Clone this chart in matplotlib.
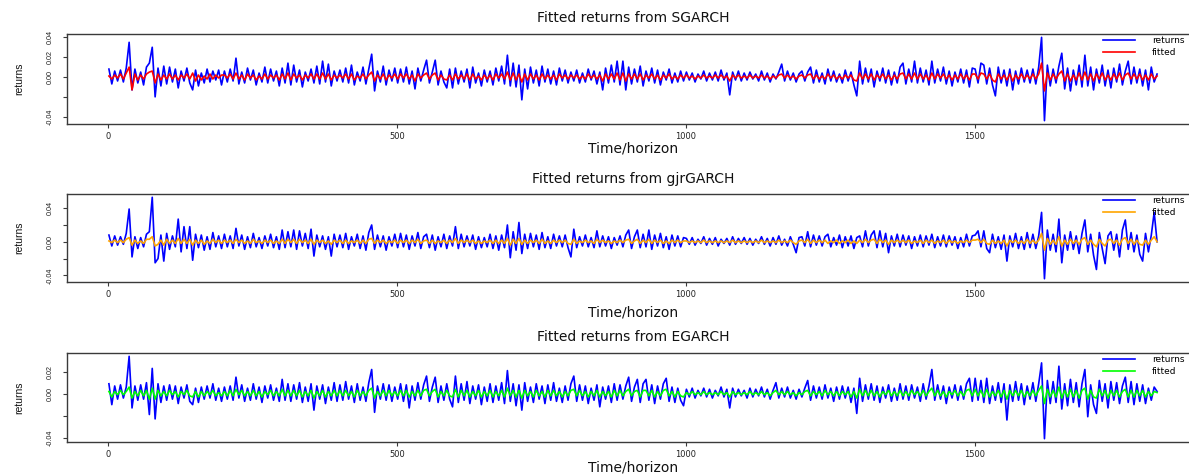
import matplotlib.pyplot as plt
import numpy as np

# Returns and fitted conditional means, in units of 1e-3,
# one value every TIME_STEP observations.
TIME_STEP = 5

RET_SGARCH = [
    8, -7, 6, -4, 7, -5, 9, 35, -13, 8, -6, 5, -8, 10, 14, 30, -20, 9, -9, 11,
    -7, 10, -5, 8, -11, 6, -4, 9, -6, -13, 7, -9, 4, -6, 8, -5, 6, -3, 7, -8,
    6, -5, 8, -4, 19, -7, 5, -6, 9, -3, 7, -8, 4, -5, 10, -6, 8, -4, 6, -9,
    9, -6, 14, -8, 12, -5, 7, -10, 5, -4, 8, -6, 11, -7, 16, -5, 13, -9, 6, -4,
    7, -5, 9, -6, 12, -8, 5, -4, 10, -7, 8, 23, -14, 6, -5, 11, -8, 7, -4, 9,
    -6, 8, -5, 10, -7, 6, -12, 9, -4, 7, 17, -6, 5, 17, -8, 6, -5, -11, 8, -11,
    9, -7, 6, -5, 8, -11, 10, -6, 4, -9, 7, -5, 6, -8, 9, -4, 11, -7, 22, -9,
    14, -10, 12, -23, 8, -12, 10, -6, 7, -9, 11, -5, 8, -7, 6, -8, 9, -4, 7, -6,
    5, -4, 7, -6, 4, -5, 8, -3, 6, -7, 5, -13, 9, -6, 12, -5, 16, -8, 16, -13,
    10, -7, 8, -5, 11, -9, 6, -4, 9, -6, 7, -8, 5, -3, 8, -6, 4, -5, 6, -4,
    5, -3, 4, -5, 3, -2, 6, -4, 4, -3, 5, -4, 7, -3, 4, -18, 5, -3, 6, -4,
    4, -3, 5, -2, 3, -4, 6, -3, 4, -5, 3, -2, 5, 13, -4, 6, -3, 4, -5, 3,
    6, -4, 5, 10, -6, 7, -5, 4, -7, 8, -4, 6, -5, 3, -6, 7, -4, 5, -8, -19,
    16, -7, 9, -5, 8, -10, 6, -4, 9, -6, 7, -8, 5, -6, 10, 14, -7, 8, -5, 16,
    -6, 9, -5, 7, -8, 16, -6, 8, -4, 10, -7, 6, -9, 5, -5, 8, -6, 7, -10, 9,
    8, -6, 14, 12, -7, 9, -8, -19, 10, -6, 7, -9, 8, -13, 6, -7, 9, -5, 7, -6,
    8, -7, 10, 40, -44, 12, -9, 8, -6, 11, 24, -12, 9, -14, 7, -8, 12, -10, 22, -9,
    10, -13, 8, -6, 12, -9, 7, -11, 9, -5, 13, -8, 6, 16, -7, 10, -6, 8, -9, 7,
    -13, 10, -5, 3,
]

FIT_SGARCH = [
    1, -2, 2, -1, 3, -2, 4, 10, -13, 3, -3, 2, -2, 3, 5, 6, -6, 3, -3, 2,
    -2, 3, -2, 2, -3, 2, -1, 3, -2, 4, -4, 2, -3, 1, -2, 3, -2, 2, -1, 2,
    2, -1, 3, -2, 4, -2, 2, -3, 3, -1, 2, -3, 1, -2, 3, -2, 2, -1, 2, -3,
    3, -2, 4, -3, 3, -1, 2, -3, 2, -1, 3, -2, 3, -2, 4, -2, 3, -3, 2, -1,
    2, -1, 3, -2, 3, -3, 1, -1, 3, -2, 2, 5, -4, 2, -2, 3, -3, 2, -1, 3,
    -2, 3, -1, 3, -2, 2, -4, 3, -1, 2, 4, -2, 2, 4, -3, 2, -2, -3, 2, -3,
    3, -2, 2, -2, 3, -3, 3, -2, 1, -3, 2, -2, 2, -3, 3, -1, 3, -2, 5, -3,
    4, -3, 3, -5, 3, -3, 3, -2, 2, -3, 3, -2, 2, -2, 2, -3, 3, -1, 2, -2,
    2, -1, 2, -2, 1, -2, 3, -1, 2, -2, 2, -4, 3, -2, 3, -2, 4, -3, 4, -4,
    3, -2, 3, -2, 3, -3, 2, -1, 3, -2, 2, -3, 2, -1, 3, -2, 1, -2, 2, -1,
    2, -1, 1, -2, 1, -1, 2, -1, 1, -1, 2, -1, 2, -1, 1, -4, 2, -1, 2, -1,
    1, -1, 2, -1, 1, -1, 2, -1, 1, -2, 1, -1, 2, 3, -1, 2, -1, 1, -2, 1,
    2, -1, 2, 3, -2, 2, -2, 1, -2, 3, -1, 2, -2, 1, -2, 2, -1, 2, -3, -4,
    4, -2, 3, -2, 3, -3, 2, -1, 3, -2, 2, -3, 2, -2, 3, 4, -2, 3, -2, 4,
    -2, 3, -2, 2, -3, 4, -2, 3, -1, 3, -2, 2, -3, 2, -2, 3, -2, 2, -3, 3,
    3, -2, 4, 3, -2, 3, -3, -5, 3, -2, 2, -3, 3, -4, 2, -2, 3, -2, 2, -2,
    3, -2, 3, 14, -14, 4, -3, 3, -2, 3, 6, -4, 3, -4, 2, -3, 4, -3, 5, -3,
    3, -4, 3, -2, 4, -3, 2, -3, 3, -2, 4, -3, 2, 4, -2, 3, -2, 3, -3, 2,
    -3, 3, -2, 1,
]

RET_GJR = [
    8, -5, 7, -4, 6, -3, 10, 39, -18, 6, -8, 5, -6, 9, 12, 53, -25, -20, 8, -23,
    10, -9, 7, -6, 27, -12, 18, -8, 18, -22, 9, -7, 8, -10, 6, -9, 11, -6, 7, -8,
    9, -6, 7, -8, 16, -5, 8, -9, 6, -7, 10, -6, 5, -8, 7, -5, 9, -7, 6, -9,
    14, -7, 12, -6, 14, -9, 13, -5, 10, -8, 15, -17, 8, -6, 7, -9, 6, -17, 9, -6,
    8, -7, 10, -9, 6, -5, 9, -8, 7, -10, 11, 20, -9, 8, -6, 7, -10, 6, -5, 9,
    -7, 10, -6, 8, -9, 7, -5, 11, -8, 6, 9, -7, 8, -10, 6, -6, 9, -8, 7, -5,
    18, -8, 9, -6, 7, -5, 8, -9, 6, -7, 5, -6, 9, -8, 7, -10, 8, -7, 20, -19,
    12, -10, 23, -14, 9, -8, 10, -6, 8, -9, 11, -7, 6, -8, 9, -5, 7, -6, 8, -7,
    -18, 15, -7, 6, -5, 8, -6, 5, -7, 13, -6, 7, -5, 6, -8, 5, -4, 7, -6, 8,
    14, -8, 6, 14, -7, 9, -6, 14, -9, 8, -5, 10, -7, 6, -9, 8, -5, 7, -6, 5,
    4, -3, 5, -4, 3, -2, 6, -4, 4, -3, 5, -5, 3, -2, 4, -4, 6, -3, 4, -2,
    5, -3, 4, -4, 3, -2, 6, -3, 4, -5, 5, -3, 7, -4, 3, -5, 6, -3, -13, 5,
    6, -5, 12, -6, 8, -4, 7, -5, 6, 9, -6, 5, -4, 8, -7, 6, -5, 7, -8, 5,
    7, -6, 13, -5, 8, 13, -7, 13, -6, 10, -13, 7, -5, 9, -6, 8, -4, 7, -8, 6,
    -5, 8, -6, 7, -4, 9, -7, 6, -5, 8, -6, 7, -4, 6, -8, 5, -6, 9, -5, 7,
    8, 13, -6, 13, -8, -13, 9, -7, 6, -9, 8, -23, 7, -6, 10, -8, 6, -9, 11, -7,
    9, -8, 7, 35, -44, 14, -10, 9, -12, 27, -25, 8, -10, 12, -9, 7, -14, 10, 26, -12,
    9, -16, -33, 11, -8, -26, 7, 12, -10, 9, -18, 14, 26, -9, 11, -12, 8, -15, -23, 10,
    -12, 8, 35, 0,
]

FIT_GJR = [
    1, -1, 2, -1, 2, -1, 3, 5, -4, 2, -2, 1, -2, 3, 3, 6, -5, -3, 2, -4,
    3, -2, 2, -2, 4, -2, 3, -2, 3, -4, 2, -2, 2, -3, 1, -2, 3, -1, 2, -2,
    2, -1, 2, -2, 3, -1, 2, -2, 1, -2, 3, -1, 1, -2, 2, -1, 2, -2, 1, -2,
    3, -2, 3, -1, 3, -2, 3, -1, 2, -2, 3, -3, 2, -1, 2, -2, 1, -3, 2, -1,
    2, -2, 2, -2, 1, -1, 2, -2, 2, -2, 3, 4, -2, 2, -1, 2, -2, 1, -1, 2,
    -2, 2, -1, 2, -2, 2, -1, 3, -2, 1, 2, -2, 2, -2, 1, -1, 2, -2, 2, -1,
    4, -2, 2, -1, 2, -1, 2, -2, 1, -2, 1, -1, 2, -2, 2, -2, 2, -2, 4, -4,
    3, -2, 4, -3, 2, -2, 2, -1, 2, -2, 3, -2, 1, -2, 2, -1, 2, -1, 2, -2,
    -3, 3, -2, 1, -1, 2, -1, 1, -2, 3, -1, 2, -1, 1, -2, 1, -1, 2, -1, 2,
    3, -2, 1, 3, -2, 2, -1, 3, -2, 2, -1, 2, -2, 1, -2, 2, -1, 2, -1, 1,
    1, -1, 1, -1, 1, -1, 2, -1, 1, -1, 1, -1, 1, -1, 1, -1, 2, -1, 1, -1,
    1, -1, 1, -1, 1, -1, 2, -1, 1, -1, 1, -1, 2, -1, 1, -1, 2, -1, -3, 1,
    2, -1, 3, -2, 2, -1, 2, -1, 2, -2, 1, -1, 2, -2, 1, -1, 2, -2, 1, -2,
    2, -1, 3, -1, 2, 3, -2, 3, -1, 2, -3, 2, -1, 2, -1, 2, -1, 2, -2, 1,
    -1, 2, -2, 2, -1, 2, -2, 1, -1, 2, -2, 2, -1, 1, -2, 1, -1, 2, -1, 2,
    2, 3, -1, 3, -2, -3, 2, -2, 1, -2, 2, -5, 2, -1, 2, -2, 1, -2, 3, -2,
    2, -2, 2, 10, -10, 4, -3, 2, -3, 6, -5, 2, -3, 3, -2, 2, -3, 3, 5, -3,
    2, -3, -6, 3, -2, -5, 2, 3, -2, 2, -4, 3, 5, -2, 3, -3, 2, -3, -4, 2,
    -3, 2, 6, 0,
]

RET_EGARCH = [
    9, -10, 7, -5, 8, -4, 6, 34, -13, 7, -6, 8, -5, 10, -19, 23, -23, 9, -8, 7,
    -6, 8, -5, 7, -9, 6, -4, 8, -7, -10, 5, -8, 6, -5, 7, -4, 9, -6, 5, -7,
    6, -5, 7, -6, 15, -4, 8, -7, 5, -6, 9, -5, 6, -8, 7, -4, 8, -6, 5, -7,
    13, -6, 9, -7, 8, -5, 10, -8, 6, -7, 9, -15, 7, -5, 8, -9, 6, -6, 10, -7,
    8, -6, 11, -5, 7, -8, 9, -6, 6, -7, 10, 22, -17, 7, -5, 9, -6, 8, -7, 6,
    -5, 9, -7, 8, -13, 7, -6, 10, -5, 8, 16, -7, 6, 15, -8, 7, -6, 9, -5, -12,
    16, -8, 9, -6, 11, -9, 7, -5, 8, -10, 6, -7, 9, -8, 7, -6, 10, -9, 21, -7,
    9, -11, 8, -15, 10, -7, 6, -8, 9, -5, 7, -9, 8, -6, 10, -7, 5, -8, 7, -6,
    9, 16, -7, 8, -6, 7, -9, 5, -6, 8, -12, 6, -5, 7, -8, 9, -6, 8, -5, 7,
    15, -7, 6, 13, -8, 9, 13, -6, 8, -9, 7, -5, 9, 14, -7, 6, -8, 5, -6, -11,
    4, -3, 5, -4, 3, -2, 5, -3, 4, -4, 3, -2, 6, -3, 4, -13, 5, -3, 4, -2,
    3, -4, 5, -3, 4, -2, 6, -3, 4, -5, 3, 10, -4, 5, -3, 6, -4, 3, -5, 4,
    -3, 5, 12, -6, 7, -4, 6, -5, 8, -4, 5, -7, 6, -5, 7, -4, 6, -8, 5, -18,
    14, -7, 8, -5, 9, -6, 7, -8, 6, -4, 8, -7, 5, -6, 9, -5, 7, -6, 8, -4,
    6, -7, 9, -5, 7, 22, -6, 8, -5, 7, -9, 6, -4, 8, -6, 7, -5, 9, 14, -7,
    14, -6, 12, -8, 14, -9, 7, -6, 10, -8, 9, -24, 8, -7, 11, -6, 9, -10, 7, -5,
    10, -7, 9, 28, -41, 12, -9, 11, -8, 25, -14, 9, -11, 13, -8, 10, -12, 9, 22, -21,
    8, -10, -18, 12, -7, 9, -13, 11, -6, 10, -9, 7, 15, -8, 11, -10, 9, -7, 8, -9,
    5, -6, 6, 2,
]

FIT_EGARCH = [
    2, -3, 2, -1, 3, -1, 2, 6, -4, 2, -2, 3, -2, 3, -5, 5, -5, 3, -2, 2,
    -2, 3, -1, 2, -3, 2, -1, 3, -2, -3, 2, -3, 2, -2, 2, -1, 3, -2, 1, -2,
    2, -2, 3, -2, 4, -1, 3, -2, 2, -2, 3, -2, 2, -3, 2, -1, 3, -2, 2, -2,
    4, -2, 3, -2, 3, -2, 3, -3, 2, -2, 3, -4, 2, -2, 3, -3, 2, -2, 3, -2,
    3, -2, 3, -2, 2, -3, 3, -2, 2, -2, 3, 5, -4, 2, -2, 3, -2, 3, -2, 2,
    -2, 3, -2, 3, -3, 2, -2, 3, -2, 3, 4, -2, 2, 4, -3, 2, -2, 3, -2, -3,
    4, -3, 3, -2, 3, -3, 2, -2, 3, -3, 2, -2, 3, -3, 2, -2, 3, -3, 5, -2,
    3, -3, 3, -4, 3, -2, 2, -3, 3, -2, 2, -3, 3, -2, 3, -2, 2, -3, 2, -2,
    3, 4, -2, 3, -2, 2, -3, 2, -2, 3, -3, 2, -2, 2, -3, 3, -2, 3, -2, 2,
    4, -2, 2, 3, -3, 3, 3, -2, 3, -3, 2, -2, 3, 4, -2, 2, -3, 2, -2, -3,
    1, -1, 2, -1, 1, -1, 2, -1, 1, -1, 1, -1, 2, -1, 1, -3, 2, -1, 1, -1,
    1, -1, 2, -1, 1, -1, 2, -1, 1, -2, 1, 3, -1, 2, -1, 2, -1, 1, -2, 1,
    -1, 2, 3, -2, 2, -1, 2, -2, 3, -1, 2, -2, 2, -2, 2, -1, 2, -3, 2, -4,
    4, -2, 3, -2, 3, -2, 2, -3, 2, -1, 3, -2, 2, -2, 3, -2, 2, -2, 3, -1,
    2, -2, 3, -2, 2, 5, -2, 3, -2, 2, -3, 2, -1, 3, -2, 2, -2, 3, 4, -2,
    4, -2, 3, -3, 4, -3, 2, -2, 3, -3, 3, -5, 3, -2, 3, -2, 3, -3, 2, -2,
    3, -2, 3, 7, -9, 4, -3, 3, -3, 6, -4, 3, -3, 4, -3, 3, -4, 3, 5, -5,
    3, -3, -4, 4, -2, 3, -4, 3, -2, 3, -3, 2, 4, -3, 3, -3, 3, -2, 3, -3,
    2, -2, 2, 1,
]

MODEL_NAMES = ["SGARCH", "gjrGARCH", "EGARCH"]
RETURNS = [RET_SGARCH, RET_GJR, RET_EGARCH]
FITTED = [FIT_SGARCH, FIT_GJR, FIT_EGARCH]

X_TICKS = [0, 500, 1000, 1500]
Y_TICKS = [-0.04, -0.02, 0.00, 0.02, 0.04]
# R drops the labels that would overlap
Y_TICK_LABELS = [
    ["-0.04", "", "0.00", "0.02", "0.04"],
    ["-0.04", "", "0.00", "", "0.04"],
    ["-0.04", "", "0.00", "0.02", ""],
]

FIT_COLORS = ["#ff0000", "#ffa500", "#00ff00"]

FIG_W, FIG_H, DPI = 1189, 474, 100
AX_LEFT, AX_RIGHT = 67, 1199
PANEL_TOPS = [34, 194, 353]
PANEL_BOTTOMS = [124, 282, 442]
TITLE_Y = [18, 179, 337]
XLABEL_Y = [149, 312, 467]
YLABEL_X = 19
LEGEND_X = 1103

# wide face for horizontal text, Helvetica-like face for the vertical text
FONT_WIDE = ["DejaVu Sans"]
FONT_VERT = ["Liberation Sans", "DejaVu Sans"]
AXIS_COLOR = "#3a3a3a"
TEXT_COLOR = "#111111"


def r_range(values, frac=0.04):
    """Axis limits the way R pads them: data range plus 4% on each side."""
    lo, hi = float(np.min(values)), float(np.max(values))
    pad = (hi - lo) * frac
    return lo - pad, hi + pad


def draw_panel(fig, idx):
    top, bottom = PANEL_TOPS[idx], PANEL_BOTTOMS[idx]
    h_px = bottom - top
    w_px = AX_RIGHT - AX_LEFT
    ax = fig.add_axes(
        [AX_LEFT / FIG_W, 1 - bottom / FIG_H, w_px / FIG_W, h_px / FIG_H]
    )

    ret = np.asarray(RETURNS[idx], dtype=float) / 1000
    fit = np.asarray(FITTED[idx], dtype=float) / 1000
    t = 1 + TIME_STEP * np.arange(len(ret))

    ax.plot(t, ret, color="#0000ff", lw=1.2, label="returns")
    ax.plot(t[: len(fit)], fit, color=FIT_COLORS[idx], lw=1.2, label="fitted")

    ax.set_xlim(*r_range(t))
    y_lo, y_hi = r_range(ret)
    ax.set_ylim(y_lo, y_hi)

    ax.set_xticks(X_TICKS)
    ax.set_xticklabels([str(v) for v in X_TICKS])
    ticks = [v for v in Y_TICKS if y_lo <= v <= y_hi]
    labels = [lab for v, lab in zip(Y_TICKS, Y_TICK_LABELS[idx]) if y_lo <= v <= y_hi]
    ax.set_yticks(ticks)
    ax.set_yticklabels(labels, rotation=90, va="center", family=FONT_VERT,
                       fontsize=5.2)

    ax.tick_params(axis="both", direction="out", length=3.2, width=0.8,
                   color=AXIS_COLOR, labelcolor="#222222")
    ax.tick_params(axis="x", pad=2.5, labelsize=6)
    ax.tick_params(axis="y", pad=6.5)
    for spine in ax.spines.values():
        spine.set_color(AXIS_COLOR)
        spine.set_linewidth(1.0)

    ax.set_title(f"Fitted returns from {MODEL_NAMES[idx]}", fontsize=10,
                 y=1 + (top - TITLE_Y[idx]) / h_px, pad=0, va="center",
                 color=TEXT_COLOR)
    ax.set_xlabel("Time/horizon", fontsize=10, va="center", color=TEXT_COLOR)
    ax.xaxis.set_label_coords(0.5, -(XLABEL_Y[idx] - bottom) / h_px)
    ax.set_ylabel("returns", fontsize=7.5, va="center", color=TEXT_COLOR,
                  family=FONT_VERT)
    ax.yaxis.set_label_coords(-(AX_LEFT - YLABEL_X) / w_px, 0.5)

    ax.legend(loc="upper left",
              bbox_to_anchor=((LEGEND_X - AX_LEFT) / w_px, 1 - 2.0 / h_px),
              frameon=False, fontsize=6.5, handlelength=3.5,
              handletextpad=1.9, borderpad=0, borderaxespad=0,
              labelspacing=0.32)
    return ax


def main():
    plt.rcParams["font.family"] = FONT_WIDE
    fig = plt.figure(figsize=(FIG_W / DPI, FIG_H / DPI), dpi=DPI)
    fig.patch.set_facecolor("white")
    for idx in range(len(MODEL_NAMES)):
        draw_panel(fig, idx)
    fig.savefig("out.png", dpi=DPI)
    plt.close(fig)


if __name__ == "__main__":
    main()
